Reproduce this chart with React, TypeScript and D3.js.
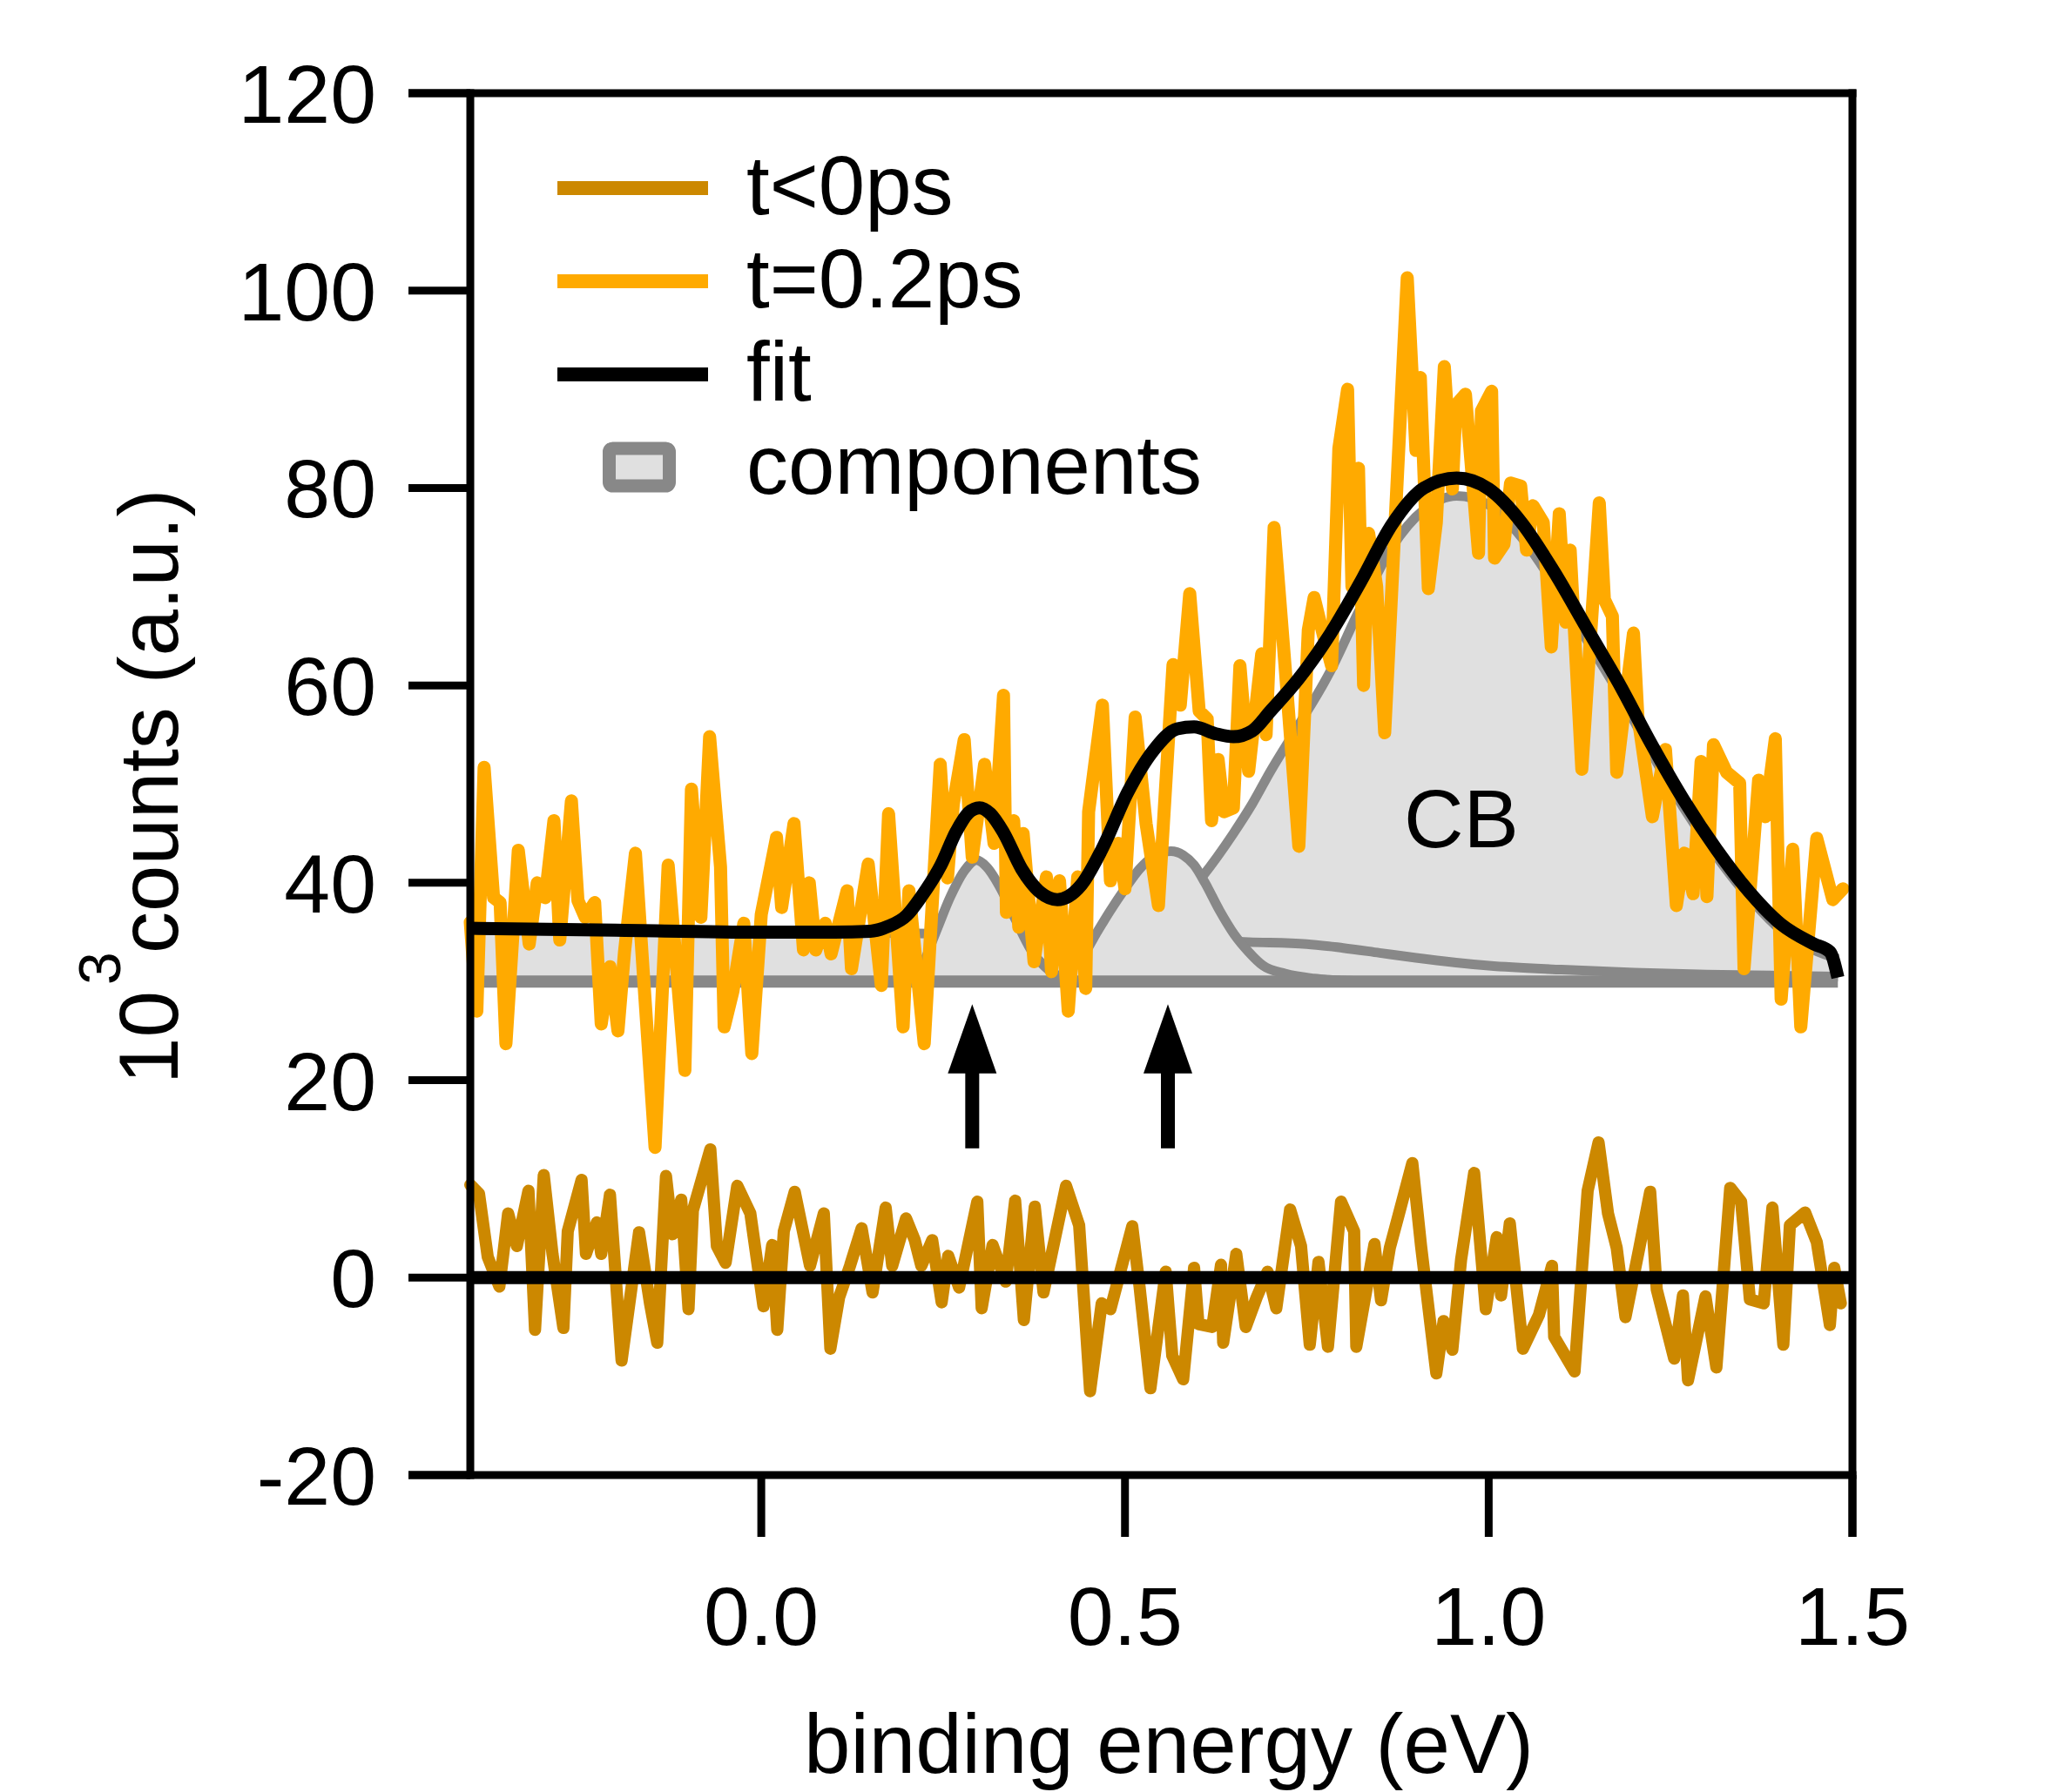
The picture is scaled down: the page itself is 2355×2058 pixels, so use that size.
import React from "react";
import * as d3 from "d3";

type P = [number, number];

// t=0.2ps spectrum (x: binding energy eV, y: 10^3 counts)
const seriesT02: P[] = [
  [-0.4, 36], [-0.391, 27], [-0.381, 51.7], [-0.368, 38.5], [-0.359, 38], [-0.351, 23.7], [-0.334, 43.3],
  [-0.319, 33.8], [-0.308, 40], [-0.297, 38.5], [-0.285, 46.3], [-0.277, 34.2], [-0.261, 48.3], [-0.252, 38.2],
  [-0.242, 36.5], [-0.229, 38], [-0.22, 25.7], [-0.208, 31.5], [-0.197, 25], [-0.188, 33], [-0.173, 43],
  [-0.16, 28.4], [-0.146, 13.2], [-0.128, 41.8], [-0.105, 21], [-0.096, 49.5], [-0.083, 36.5], [-0.071, 54.8],
  [-0.056, 41.6], [-0.051, 25.4], [-0.039, 29], [-0.024, 35.9], [-0.013, 22.7], [0.0, 36.8], [0.021, 44.6],
  [0.028, 37.5], [0.045, 46], [0.058, 33.2], [0.066, 40], [0.075, 33.2], [0.088, 35.9], [0.096, 32.8],
  [0.118, 39.2], [0.124, 31.3], [0.147, 41.9], [0.165, 29.6], [0.175, 47], [0.195, 25.4], [0.203, 39.2],
  [0.224, 23.7], [0.246, 52], [0.256, 40.5], [0.264, 48], [0.279, 54.5], [0.29, 42.6], [0.307, 52],
  [0.32, 44], [0.333, 59], [0.337, 37], [0.347, 46.3], [0.354, 35.5], [0.36, 45], [0.375, 32],
  [0.392, 40.6], [0.399, 31], [0.41, 40.2], [0.422, 27], [0.435, 40.6], [0.446, 29.3], [0.45, 47.2],
  [0.469, 58], [0.48, 40.2], [0.491, 44], [0.5, 39.4], [0.514, 56.8], [0.529, 46], [0.546, 37.7],
  [0.566, 62.1], [0.576, 58], [0.589, 69.3], [0.602, 57.4], [0.613, 56.6], [0.619, 46.3], [0.628, 52.5],
  [0.636, 47.2], [0.649, 47.6], [0.658, 62], [0.67, 51.3], [0.688, 63.2], [0.694, 55], [0.705, 76],
  [0.72, 62], [0.739, 43.7], [0.752, 65.6], [0.76, 68.9], [0.773, 65], [0.784, 62], [0.794, 84],
  [0.806, 90], [0.812, 70], [0.821, 82], [0.828, 60], [0.835, 75.4], [0.846, 70], [0.857, 55.2],
  [0.888, 101.3], [0.9, 83.8], [0.906, 91.2], [0.917, 69.8], [0.928, 76.5], [0.939, 92.3], [0.95, 79.9],
  [0.955, 88.4], [0.968, 89.5], [0.986, 73.4], [0.99, 87.8], [1.004, 89.8], [1.008, 72.9], [1.021, 74.3],
  [1.03, 80.5], [1.044, 80.2], [1.052, 73.7], [1.061, 78.2], [1.075, 76.5], [1.086, 63.9], [1.097, 77.4],
  [1.106, 66.4], [1.112, 73.7], [1.128, 51.5], [1.152, 78.5], [1.159, 68.7], [1.17, 67], [1.176, 51.2],
  [1.199, 65.3], [1.205, 56.9], [1.225, 46.7], [1.243, 53.5], [1.258, 37.7], [1.269, 43], [1.281, 38.9],
  [1.292, 52.3], [1.3, 38.6], [1.309, 54], [1.327, 51.2], [1.345, 50.1], [1.351, 31.3], [1.371, 50.4],
  [1.38, 46.7], [1.394, 54.6], [1.402, 28.2], [1.418, 43.4], [1.429, 25.4], [1.451, 44.5], [1.473, 38.3],
  [1.487, 39.4],
];

// t<0ps spectrum (difference-like, around 0)
const seriesTneg: P[] = [
  [-0.4, 9.4], [-0.388, 8.5], [-0.376, 2.1], [-0.36, -0.9], [-0.348, 6.5], [-0.336, 3.2], [-0.32, 8.8],
  [-0.311, -5.3], [-0.299, 10.4], [-0.287, 2.4], [-0.272, -5.1], [-0.266, 4.7], [-0.247, 9.9], [-0.241, 2.4],
  [-0.226, 5.6], [-0.22, 2.4], [-0.208, 8.4], [-0.192, -8.4], [-0.168, 4.6], [-0.153, -2.6], [-0.143, -6.6],
  [-0.131, 10.3], [-0.122, 4.4], [-0.11, 7.9], [-0.1, -3.2], [-0.094, 6.8], [-0.07, 13], [-0.061, 3.2],
  [-0.049, 1.5], [-0.033, 9.3], [-0.015, 6.5], [0.003, -2.9], [0.015, 3.3], [0.022, -5.3], [0.031, 4.7],
  [0.046, 8.7], [0.067, 1.2], [0.086, 6.5], [0.095, -7.2], [0.107, -2], [0.122, 1.2], [0.138, 5],
  [0.153, -1.5], [0.171, 7.1], [0.18, 1.2], [0.199, 6], [0.211, 3.8], [0.22, 1.2], [0.235, 3.8],
  [0.248, -2.5], [0.257, 2.2], [0.272, -1], [0.297, 7.7], [0.303, -3.1], [0.318, 3.3], [0.336, -0.4],
  [0.349, 7.8], [0.361, -4.3], [0.376, 7.2], [0.388, -1.5], [0.419, 9.3], [0.437, 5.3], [0.452, -11.5],
  [0.468, -2.6], [0.48, -3.2], [0.51, 5.2], [0.52, -0.9], [0.535, -11.2], [0.556, 0.6], [0.565, -7.9],
  [0.58, -10.3], [0.595, 1.0], [0.601, -4.7], [0.62, -5], [0.632, 1.3], [0.635, -6.6], [0.653, 2.4],
  [0.666, -5], [0.681, -2], [0.696, 0.6], [0.708, -3.1], [0.727, 6.9], [0.742, 3.2], [0.754, -6.8],
  [0.766, 1.6], [0.779, -7], [0.797, 7.7], [0.815, 4.7], [0.818, -7], [0.843, 3.4], [0.852, -2.3],
  [0.864, 3], [0.876, 6.3], [0.895, 11.6], [0.907, 3.2], [0.928, -9.7], [0.938, -4.4], [0.95, -7.3],
  [0.962, 1.8], [0.98, 10.6], [0.996, -3.2], [1.011, 4.1], [1.017, -1.8], [1.029, 5.5], [1.047, -7.2],
  [1.069, -3.8], [1.087, 1.2], [1.09, -6], [1.118, -9.5], [1.136, 8.8], [1.151, 13.7], [1.164, 6.5],
  [1.176, 3], [1.188, -4], [1.207, 3], [1.222, 8.7], [1.231, -1.2], [1.255, -8.2], [1.267, -1.8],
  [1.274, -10.4], [1.298, -1.9], [1.313, -9.1], [1.332, 9.1], [1.347, 7.7], [1.359, -2.2], [1.378, -2.6],
  [1.39, 7.1], [1.405, -6.8], [1.414, 5.3], [1.435, 6.6], [1.451, 3.6], [1.469, -4.8], [1.475, 1],
  [1.484, -2.6],
];

// fit curve
const fitCurve: P[] = [
  [-0.4, 35.4], [-0.2, 35.2], [0.0, 35.0], [0.1, 35.0], [0.15, 35.1], [0.175, 35.6], [0.2, 36.7],
  [0.22, 38.6], [0.247, 41.8], [0.268, 45.2], [0.285, 47.1], [0.3, 47.6], [0.315, 47.0], [0.333, 45.1],
  [0.358, 41.4], [0.384, 39.0], [0.407, 38.3], [0.44, 39.8], [0.469, 43.5], [0.504, 49.2], [0.538, 53.3],
  [0.572, 55.6], [0.595, 55.8], [0.625, 55.1], [0.649, 54.8], [0.675, 55.4], [0.7, 57.4], [0.739, 60.7],
  [0.782, 65.2], [0.824, 70.5], [0.867, 76.3], [0.911, 80.0], [0.956, 81.0], [1.0, 79.9], [1.045, 76.5],
  [1.09, 71.5], [1.134, 65.9], [1.179, 60.2], [1.224, 54.0], [1.268, 48.4], [1.313, 43.4], [1.358, 39.1],
  [1.402, 35.8], [1.447, 33.8], [1.469, 33.0], [1.48, 30.4],
];

// fit components (drawn above the 30k offset)
const compBaseline = 30;
const compCB: P[] = [
  [0.3, 30.4], [0.4, 31.2], [0.5, 33.5], [0.56, 36.8], [0.606, 40.6], [0.649, 45.0], [0.675, 48.0],
  [0.7, 51.3], [0.739, 56.0], [0.782, 61.4], [0.822, 67.6], [0.867, 74.0], [0.911, 77.8], [0.956, 79.2],
  [1.0, 78.3], [1.045, 75.0], [1.09, 70.2], [1.134, 64.7], [1.179, 59.2], [1.224, 53.1], [1.268, 47.6],
  [1.313, 42.7], [1.358, 38.5], [1.402, 35.2], [1.447, 33.2], [1.48, 32.3],
];
const compBackground: P[] = [
  [-0.385, 35.2], [0.0, 35.0], [0.2, 34.9], [0.4, 34.6], [0.6, 34.2], [0.67, 34.0], [0.75, 33.8],
  [0.8, 33.4], [0.85, 32.9], [0.9, 32.4], [1.0, 31.6], [1.1, 31.2], [1.2, 30.9], [1.3, 30.7],
  [1.4, 30.6], [1.48, 30.5],
];
const compPeak2: P[] = [
  [0.38, 30.0], [0.4, 30.3], [0.42, 31.0], [0.44, 32.3], [0.46, 34.8], [0.48, 37.2], [0.5, 39.4],
  [0.52, 41.4], [0.54, 42.7], [0.563, 43.2], [0.58, 42.8], [0.595, 41.8], [0.61, 40.0], [0.63, 37.2],
  [0.65, 34.8], [0.67, 33.0], [0.69, 31.6], [0.72, 30.8], [0.76, 30.3], [0.8, 30.1], [0.85, 30.0],
];
const compPeak1: P[] = [
  [0.17, 30.0], [0.2, 30.3], [0.22, 31.5], [0.24, 35.0], [0.26, 38.6], [0.28, 41.3], [0.296, 42.3],
  [0.31, 41.6], [0.33, 39.3], [0.35, 36.2], [0.37, 33.3], [0.39, 31.5], [0.41, 30.5], [0.43, 30.1],
  [0.45, 30.0],
];
const compRange: [number, number] = [-0.385, 1.48];

const yTicks = [-20, 0, 20, 40, 60, 80, 100, 120];
const xTicks = [0.0, 0.5, 1.0, 1.5];
const arrowXs = [0.29, 0.559];
const legendItems = [
  { label: "t<0ps", color: "#CC8800", kind: "line" },
  { label: "t=0.2ps", color: "#FFAA00", kind: "line" },
  { label: "fit", color: "#000000", kind: "line" },
  { label: "components", color: "#888888", kind: "box" },
];

const FONT = "'Liberation Sans', Arial, Helvetica, sans-serif";
const W = 2355;
const H = 2058;

export default function App() {
  const x = d3.scaleLinear().domain([-0.4, 1.5]).range([540, 2127]);
  const y = d3.scaleLinear().domain([-20, 120]).range([1694, 107]);

  const lin = d3.line<P>().x((d) => x(d[0])).y((d) => y(d[1]));
  const smooth = d3.line<P>().x((d) => x(d[0])).y((d) => y(d[1])).curve(d3.curveMonotoneX);
  const area = d3
    .area<P>()
    .x((d) => x(d[0]))
    .y0(y(compBaseline))
    .y1((d) => y(d[1]))
    .curve(d3.curveMonotoneX);

  const comps = [compCB, compBackground, compPeak2, compPeak1];
  const gray = "#888888";
  const left = x(-0.4);
  const right = x(1.5);
  const top = y(120);
  const bottom = y(-20);

  return (
    <svg
      width={W}
      height={H}
      viewBox={`0 0 ${W} ${H}`}
      style={{ position: "absolute", left: 0, top: 0, display: "block", background: "#fff" }}
      fontFamily={FONT}
    >
      <rect x={0} y={0} width={W} height={H} fill="#fff" />

      {/* components */}
      {comps.map((c, i) => (
        <g key={i}>
          <path d={area(c) || ""} fill="#E0E0E0" stroke="none" />
          <path d={smooth(c) || ""} fill="none" stroke={gray} strokeWidth={11} strokeLinejoin="round" />
        </g>
      ))}
      <line
        x1={x(compRange[0])}
        x2={x(compRange[1])}
        y1={y(compBaseline)}
        y2={y(compBaseline)}
        stroke={gray}
        strokeWidth={14}
      />

      {/* data */}
      <path d={lin(seriesT02) || ""} fill="none" stroke="#FFAA00" strokeWidth={15} strokeLinejoin="round" strokeLinecap="round" />
      <path d={lin(seriesTneg) || ""} fill="none" stroke="#CC8800" strokeWidth={14} strokeLinejoin="round" strokeLinecap="round" />
      <line x1={left} x2={right} y1={y(0)} y2={y(0)} stroke="#000" strokeWidth={15} />
      <path d={smooth(fitCurve) || ""} fill="none" stroke="#000" strokeWidth={15} strokeLinejoin="round" />

      {/* arrows */}
      {arrowXs.map((ax, i) => {
        const cx = x(ax);
        const tip = y(27.7);
        const base = y(20.7);
        const tail = y(13.1);
        return (
          <g key={i} fill="#000">
            <polygon points={`${cx},${tip} ${cx - 28},${base} ${cx + 28},${base}`} />
            <rect x={cx - 8} y={base - 1} width={16} height={tail - base + 1} />
          </g>
        );
      })}

      <text x={x(0.887) - 3} y={y(43.6)} fontSize={95} fill="#000">CB</text>

      {/* axes frame */}
      <g stroke="#000" strokeWidth={9} strokeLinecap="butt">
        <line x1={left} x2={left} y1={top - 4.5} y2={bottom + 4.5} />
        <line x1={right} x2={right} y1={top - 4.5} y2={bottom + 71} />
        <line x1={469} x2={right + 4.5} y1={top} y2={top} />
        <line x1={469} x2={right + 4.5} y1={bottom} y2={bottom} />
        {yTicks.map((t) => (
          <line key={t} x1={469} x2={left} y1={y(t)} y2={y(t)} />
        ))}
        {xTicks.map((t) => (
          <line key={t} x1={x(t)} x2={x(t)} y1={bottom} y2={bottom + 71} strokeWidth={9} />
        ))}
      </g>
      {yTicks.map((t) => (
        <text key={t} x={432} y={y(t) + 34} fontSize={95} textAnchor="end" fill="#000">
          {String(t)}
        </text>
      ))}
      {xTicks.map((t) => (
        <text key={t} x={x(t)} y={1889} fontSize={95} textAnchor="middle" fill="#000">
          {t.toFixed(1)}
        </text>
      ))}

      {/* axis titles */}
      <text x={1342} y={2036} fontSize={96} textAnchor="middle" fill="#000">
        binding energy (eV)
      </text>
      <text transform="translate(204,1245) rotate(-90)" fontSize={96} fill="#000">
        <tspan x={0} y={0}>10</tspan>
        <tspan x={114} y={-66} fontSize={68}>3</tspan>
        <tspan x={150} y={0}>counts (a.u.)</tspan>
      </text>

      {/* legend */}
      {legendItems.map((it, i) => {
        const cy = 216 + i * 107;
        return (
          <g key={it.label}>
            {it.kind === "line" ? (
              <line x1={640} x2={813} y1={cy} y2={cy} stroke={it.color} strokeWidth={16} />
            ) : (
              <rect x={699.5} y={cy - 22} width={69} height={43} rx={4} fill="#E0E0E0" stroke={it.color} strokeWidth={15} />
            )}
            <text x={857} y={cy + 30} fontSize={96} fill="#000">
              {it.label}
            </text>
          </g>
        );
      })}
    </svg>
  );
}
